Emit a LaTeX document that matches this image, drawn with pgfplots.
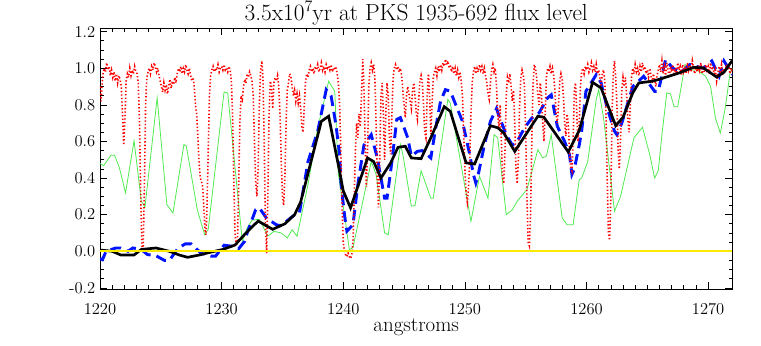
\documentclass[border=0pt]{standalone}
\usepackage{pgfplots}
\pgfplotsset{compat=1.18}
\definecolor{specred}{RGB}{255,0,0}
\definecolor{specgreen}{RGB}{80,235,80}
\definecolor{specblue}{RGB}{0,20,255}
\definecolor{specyellow}{RGB}{250,235,0}
\begin{document}
\begin{tikzpicture}
\begin{axis}[
  scale only axis, width=474.4pt, height=195.75pt,
  xmin=1220, xmax=1272, ymin=-0.206, ymax=1.22,
  xtick={1220,1230,1240,1250,1260,1270}, minor x tick num=9,
  ytick={-0.2,0,0.2,0.4,0.6,0.8,1.0,1.2}, minor y tick num=3,
  tick align=inside,
  major tick length=5.5pt, minor tick length=2.8pt,
  tick style={black, line width=0.5pt},
  axis line style={black, line width=0.6pt},
  /pgf/number format/1000 sep={},
  /pgf/number format/assume math mode=true,
  xticklabel style={font=\fontsize{12.4}{14}\selectfont, yshift=-7pt},
  yticklabel style={font=\fontsize{12.4}{14}\selectfont,
    /pgf/number format/fixed, /pgf/number format/fixed zerofill,
    /pgf/number format/precision=1},
  xlabel={angstroms},
  xlabel style={font=\fontsize{15.7}{18}\selectfont, yshift=4pt},
  title={3.5x10\raisebox{0.85ex}{\fontsize{12}{12}\selectfont 7}yr at PKS 1935-692 flux level},
  title style={font=\fontsize{17.5}{20}\selectfont, yshift=-7.5pt},
]
\coordinate (bl) at (rel axis cs:0,0);
\coordinate (tr) at (rel axis cs:1,1);
% smoothed model (green)
\addplot[specgreen, line width=0.6pt] coordinates {
(1220.0,0.48) (1220.3,0.468) (1220.9,0.525) (1221.2,0.525) (1221.6,0.455) (1222.1,0.319)
(1222.8,0.604) (1223.4,0.273) (1223.7,0.242) (1224.7,0.838) (1225.5,0.255) (1226.0,0.209)
(1226.9,0.583) (1227.1,0.575) (1228.0,0.227) (1228.6,0.091) (1228.9,0.12) (1230.2,0.87)
(1230.5,0.865) (1231.7,0.055) (1232.1,0.127) (1232.5,0.17) (1233.1,0.175) (1233.8,0.082)
(1234.3,0.109) (1234.9,0.1) (1235.4,0.073) (1235.8,0.118) (1236.2,0.082) (1237.1,0.364)
(1237.9,0.674) (1238.8,0.929) (1239.3,0.874) (1239.6,0.42) (1240.1,0.2) (1240.5,0.009)
(1240.8,0.02) (1242.3,0.49) (1242.7,0.42) (1243.4,0.1) (1243.7,0.09) (1244.7,0.583)
(1244.9,0.53) (1245.6,0.246) (1245.9,0.25) (1246.4,0.44) (1247.2,0.29) (1247.4,0.29)
(1248.6,0.83) (1248.8,0.81) (1250.5,0.164) (1251.2,0.41) (1251.9,0.29) (1252.4,0.637)
(1252.7,0.62) (1253.4,0.2) (1253.9,0.227) (1254.3,0.273) (1255.1,0.337) (1256.0,0.555)
(1256.4,0.51) (1256.7,0.52) (1257.1,0.637) (1258.0,0.182) (1258.4,0.145) (1258.9,0.145)
(1259.4,0.391) (1259.6,0.40) (1260.1,0.49) (1260.8,0.83) (1261.0,0.883) (1261.4,0.73)
(1262.3,0.219) (1262.8,0.3) (1263.9,0.62) (1264.6,0.678) (1265.2,0.528) (1265.6,0.4)
(1265.9,0.44) (1266.2,0.637) (1266.6,0.865) (1266.9,0.86) (1267.2,0.79) (1267.5,0.79)
(1268.1,1.02) (1268.6,0.99) (1269.1,0.99) (1269.8,0.956) (1270.2,0.9) (1270.6,0.728)
(1271.0,0.646) (1271.4,0.78) (1271.8,0.975) (1272.0,1.0)
};
% blue dashed
\addplot[specblue, line width=2.2pt, dash pattern=on 8pt off 4.5pt] coordinates {
(1220.0,-0.04) (1220.2,-0.046) (1220.5,0.0) (1221.3,0.018) (1221.7,0.018) (1222.3,0.0)
(1222.7,0.018) (1223.4,0.01) (1223.9,-0.018) (1224.6,-0.024) (1225.3,-0.05) (1225.7,-0.05)
(1226.4,0.015) (1227.0,0.04) (1227.5,0.04) (1228.3,-0.01) (1229.1,-0.027) (1229.5,-0.027)
(1230.2,0.033) (1230.9,0.027) (1231.4,0.014) (1231.9,0.055) (1232.1,0.1) (1232.8,0.227)
(1233.1,0.237) (1233.7,0.18) (1234.5,0.145) (1234.8,0.14) (1235.3,0.162) (1236.1,0.205)
(1236.4,0.21) (1237.1,0.49) (1237.9,0.656) (1238.6,0.883) (1239.0,0.85) (1239.4,0.69)
(1239.7,0.53) (1239.8,0.38) (1240.1,0.2) (1240.3,0.11) (1240.8,0.145) (1241.2,0.364)
(1241.7,0.58) (1242.3,0.637) (1242.8,0.51) (1243.4,0.29) (1243.6,0.29) (1244.0,0.49)
(1244.4,0.72) (1244.7,0.73) (1245.3,0.62) (1245.6,0.52) (1246.1,0.546) (1246.5,0.55)
(1247.2,0.51) (1247.6,0.674) (1248.0,0.82) (1248.4,0.883) (1248.8,0.875) (1249.8,0.71)
(1250.4,0.528) (1250.7,0.42) (1250.9,0.373) (1251.1,0.42) (1251.6,0.58) (1252.1,0.71)
(1252.6,0.78) (1252.8,0.74) (1253.4,0.637) (1253.9,0.58) (1254.3,0.6) (1254.9,0.674)
(1255.5,0.728) (1256.1,0.756) (1256.8,0.838) (1257.1,0.855) (1257.6,0.683) (1258.2,0.6)
(1258.6,0.528) (1258.8,0.42) (1259.0,0.45) (1259.4,0.58) (1259.6,0.656) (1259.95,0.874)
(1260.8,0.965) (1261.2,0.92) (1261.7,0.783) (1262.3,0.656) (1262.5,0.637) (1262.9,0.7)
(1263.8,0.9) (1264.7,0.956) (1265.6,0.874) (1265.9,0.874) (1266.5,1.047) (1267.1,1.0)
(1267.8,0.98) (1268.5,1.02) (1269.6,1.0) (1270.3,1.04) (1270.9,0.956) (1271.3,1.04)
(1272.0,0.965)
};
% high resolution spectrum (red dotted)
\addplot[specred, line width=1.2pt, dash pattern=on 1pt off 1.6pt] coordinates {
(1220.00,0.90) (1220.05,0.86) (1220.10,0.82) (1220.18,0.92) (1220.25,0.97) (1220.35,1.00)
(1220.45,0.98) (1220.55,1.03) (1220.65,0.99) (1220.75,1.01) (1220.85,0.96) (1220.95,0.99)
(1221.05,0.95) (1221.15,0.98) (1221.25,0.93) (1221.35,0.97) (1221.45,0.92) (1221.55,0.96)
(1221.65,0.94) (1221.75,0.90) (1221.85,0.75) (1221.95,0.58) (1222.05,0.72) (1222.15,0.93)
(1222.25,0.97) (1222.35,0.95) (1222.45,1.00) (1222.55,0.96) (1222.65,0.99) (1222.75,0.97)
(1222.85,1.01) (1222.95,0.98) (1223.05,0.97) (1223.15,0.92) (1223.25,0.70) (1223.35,0.30)
(1223.45,0.02) (1223.55,0.01) (1223.65,0.35) (1223.75,0.80) (1223.85,0.95) (1223.95,0.98)
(1224.05,1.00) (1224.15,0.97) (1224.25,1.01) (1224.35,0.99) (1224.45,1.03) (1224.55,1.01)
(1224.65,0.98) (1224.75,1.00) (1224.85,0.96) (1224.95,0.93) (1225.05,0.90) (1225.15,0.87)
(1225.25,0.92) (1225.35,0.88) (1225.45,0.91) (1225.55,0.86) (1225.65,0.90) (1225.75,0.94)
(1225.85,0.89) (1225.95,0.93) (1226.05,0.91) (1226.15,0.95) (1226.25,0.92) (1226.35,0.97)
(1226.45,1.00) (1226.55,0.98) (1226.65,1.01) (1226.75,0.97) (1226.85,1.00) (1226.95,0.98)
(1227.05,1.02) (1227.15,0.99) (1227.25,0.97) (1227.35,1.00) (1227.45,0.96) (1227.55,0.93)
(1227.65,0.95) (1227.75,0.90) (1227.85,0.80) (1227.95,0.75) (1228.05,0.62) (1228.15,0.48)
(1228.25,0.40) (1228.35,0.38) (1228.45,0.35) (1228.55,0.22) (1228.65,0.10) (1228.72,0.09)
(1228.80,0.25) (1228.90,0.55) (1229.00,0.85) (1229.10,0.96) (1229.20,0.99) (1229.30,1.01)
(1229.40,0.98) (1229.50,1.00) (1229.60,0.99) (1229.70,1.02) (1229.80,0.98) (1229.90,1.00)
(1230.00,1.01) (1230.10,0.99) (1230.20,1.02) (1230.30,0.99) (1230.40,1.00) (1230.50,0.98)
(1230.60,1.01) (1230.70,0.99) (1230.80,0.93) (1230.90,0.75) (1231.00,0.40) (1231.10,0.10)
(1231.20,0.03) (1231.30,0.05) (1231.40,0.35) (1231.50,0.70) (1231.60,0.85) (1231.70,0.83)
(1231.80,0.90) (1231.90,0.94) (1232.00,0.92) (1232.10,0.97) (1232.20,0.95) (1232.30,0.98)
(1232.40,0.96) (1232.50,0.93) (1232.60,0.85) (1232.70,0.60) (1232.80,0.38) (1232.90,0.30)
(1233.00,0.45) (1233.10,0.80) (1233.20,0.98) (1233.30,1.04) (1233.40,0.95) (1233.50,0.60)
(1233.60,0.15) (1233.70,-0.01) (1233.80,0.30) (1233.90,0.75) (1234.00,0.93) (1234.10,0.90)
(1234.20,0.78) (1234.30,0.92) (1234.40,0.95) (1234.50,0.93) (1234.60,0.96) (1234.70,0.90)
(1234.80,0.75) (1234.90,0.50) (1235.00,0.30) (1235.10,0.25) (1235.20,0.40) (1235.30,0.70)
(1235.40,0.88) (1235.50,0.92) (1235.60,0.97) (1235.70,0.95) (1235.80,0.90) (1235.90,0.85)
(1236.00,0.88) (1236.10,0.82) (1236.20,0.86) (1236.30,0.81) (1236.40,0.85) (1236.50,0.78)
(1236.60,0.68) (1236.70,0.65) (1236.80,0.80) (1236.90,0.93) (1237.00,0.97) (1237.10,0.95)
(1237.20,0.99) (1237.30,1.01) (1237.40,0.98) (1237.50,1.00) (1237.60,0.97) (1237.70,1.01)
(1237.80,0.99) (1237.90,1.02) (1238.00,0.98) (1238.10,1.00) (1238.20,1.03) (1238.30,0.99)
(1238.40,1.01) (1238.50,0.98) (1238.60,1.02) (1238.70,1.00) (1238.80,1.01) (1238.90,0.99)
(1239.00,1.02) (1239.10,0.98) (1239.20,1.00) (1239.30,0.99) (1239.40,1.01) (1239.50,0.97)
(1239.60,0.92) (1239.70,0.80) (1239.80,0.55) (1239.90,0.25) (1240.00,0.05) (1240.10,0.00)
(1240.20,-0.02) (1240.30,-0.03) (1240.40,-0.01) (1240.50,-0.03) (1240.60,-0.04) (1240.70,-0.02)
(1240.80,0.05) (1240.90,0.30) (1241.00,0.55) (1241.10,0.70) (1241.20,0.62) (1241.30,0.75)
(1241.40,0.68) (1241.50,0.85) (1241.60,1.05) (1241.70,0.90) (1241.80,0.60) (1241.90,0.35)
(1242.00,0.55) (1242.10,0.90) (1242.20,1.00) (1242.30,1.03) (1242.40,0.99) (1242.50,1.02)
(1242.60,0.95) (1242.70,0.70) (1242.80,0.40) (1242.90,0.24) (1243.00,0.50) (1243.10,0.85)
(1243.20,0.92) (1243.30,0.75) (1243.40,0.50) (1243.50,0.75) (1243.60,0.92) (1243.70,0.85)
(1243.80,0.60) (1243.90,0.53) (1244.00,0.75) (1244.10,0.95) (1244.20,1.00) (1244.30,1.02)
(1244.40,0.99) (1244.50,1.01) (1244.60,0.98) (1244.70,1.00) (1244.80,0.96) (1244.90,0.88)
(1245.00,0.80) (1245.10,0.73) (1245.20,0.85) (1245.30,0.90) (1245.40,0.86) (1245.50,0.82)
(1245.60,0.78) (1245.70,0.88) (1245.80,0.92) (1245.90,0.85) (1246.00,0.76) (1246.10,0.72)
(1246.20,0.82) (1246.30,0.93) (1246.40,0.96) (1246.50,0.92) (1246.60,0.80) (1246.70,0.65)
(1246.80,0.62) (1246.90,0.85) (1247.00,0.97) (1247.10,0.85) (1247.20,0.64) (1247.30,0.80)
(1247.40,0.95) (1247.50,0.98) (1247.60,1.00) (1247.70,0.96) (1247.80,1.01) (1247.90,0.98)
(1248.00,1.02) (1248.10,0.99) (1248.20,1.03) (1248.30,1.01) (1248.40,1.05) (1248.50,1.02)
(1248.60,1.04) (1248.70,1.00) (1248.80,1.02) (1248.90,0.98) (1249.00,1.01) (1249.10,0.97)
(1249.20,1.00) (1249.30,0.96) (1249.40,0.99) (1249.50,0.95) (1249.60,0.98) (1249.70,0.93)
(1249.80,0.85) (1249.90,0.65) (1250.00,0.45) (1250.10,0.32) (1250.20,0.27) (1250.30,0.35)
(1250.40,0.50) (1250.50,0.75) (1250.60,0.92) (1250.70,0.98) (1250.80,1.01) (1250.90,0.97)
(1251.00,1.00) (1251.10,0.98) (1251.20,1.02) (1251.30,0.99) (1251.40,1.01) (1251.50,0.97)
(1251.60,1.00) (1251.70,0.96) (1251.80,0.92) (1251.90,0.86) (1252.00,0.83) (1252.10,0.92)
(1252.20,0.99) (1252.30,1.02) (1252.40,0.98) (1252.50,1.00) (1252.60,0.90) (1252.70,0.75)
(1252.80,0.67) (1252.90,0.80) (1253.00,0.60) (1253.10,0.40) (1253.20,0.37) (1253.30,0.55)
(1253.40,0.85) (1253.50,0.95) (1253.60,0.92) (1253.70,0.97) (1253.80,0.90) (1253.90,0.82)
(1254.00,0.88) (1254.10,0.70) (1254.20,0.45) (1254.30,0.37) (1254.40,0.50) (1254.50,0.80)
(1254.60,0.95) (1254.70,0.99) (1254.80,0.96) (1254.90,0.90) (1255.00,0.65) (1255.10,0.30)
(1255.20,0.05) (1255.30,0.03) (1255.40,0.20) (1255.50,0.60) (1255.60,0.90) (1255.70,1.02)
(1255.80,1.00) (1255.90,0.95) (1256.00,0.85) (1256.10,0.80) (1256.20,0.92) (1256.30,0.85)
(1256.40,0.70) (1256.50,0.60) (1256.60,0.75) (1256.70,0.95) (1256.80,1.00) (1256.90,0.98)
(1257.00,1.01) (1257.10,0.97) (1257.20,1.00) (1257.30,0.96) (1257.40,0.88) (1257.50,0.75)
(1257.60,0.70) (1257.70,0.80) (1257.80,0.93) (1257.90,0.97) (1258.00,0.94) (1258.10,0.85)
(1258.20,0.70) (1258.30,0.63) (1258.40,0.75) (1258.50,0.70) (1258.60,0.55) (1258.70,0.46)
(1258.80,0.44) (1258.90,0.60) (1259.00,0.88) (1259.10,0.92) (1259.20,0.75) (1259.30,0.60)
(1259.40,0.70) (1259.50,0.90) (1259.60,0.98) (1259.70,1.00) (1259.80,0.97) (1259.90,1.01)
(1260.00,0.99) (1260.10,1.02) (1260.20,0.98) (1260.30,1.00) (1260.40,1.03) (1260.50,0.99)
(1260.60,1.01) (1260.70,0.98) (1260.80,1.02) (1260.90,0.97) (1261.00,0.99) (1261.10,0.95)
(1261.20,0.90) (1261.30,0.97) (1261.40,0.99) (1261.50,0.93) (1261.60,0.75) (1261.70,0.40)
(1261.80,0.10) (1261.90,0.06) (1262.00,0.30) (1262.10,0.75) (1262.20,0.97) (1262.30,1.04)
(1262.40,0.95) (1262.50,0.80) (1262.60,0.55) (1262.70,0.45) (1262.80,0.62) (1262.90,0.88)
(1263.00,0.95) (1263.10,0.90) (1263.20,0.95) (1263.30,0.85) (1263.40,0.72) (1263.50,0.65)
(1263.60,0.80) (1263.70,0.95) (1263.80,1.00) (1263.90,0.97) (1264.00,1.02) (1264.10,0.98)
(1264.20,1.00) (1264.30,0.96) (1264.40,1.01) (1264.50,0.98) (1264.60,1.03) (1264.70,0.99)
(1264.80,1.01) (1264.90,0.97) (1265.00,0.99) (1265.10,0.95) (1265.20,1.00) (1265.30,0.96)
(1265.40,0.92) (1265.50,0.97) (1265.60,0.94) (1265.70,0.90) (1265.80,0.96) (1265.90,0.99)
(1266.00,1.02) (1266.10,0.98) (1266.20,1.04) (1266.30,0.97) (1266.40,1.01) (1266.50,0.96)
(1266.60,1.03) (1266.70,0.99) (1266.80,0.95) (1266.90,1.01) (1267.00,0.98) (1267.10,1.02)
(1267.20,0.96) (1267.30,1.00) (1267.40,0.97) (1267.50,1.03) (1267.60,0.99) (1267.70,1.01)
(1267.80,0.96) (1267.90,1.02) (1268.00,0.98) (1268.10,1.00) (1268.20,0.97) (1268.30,1.03)
(1268.40,0.99) (1268.50,1.02) (1268.60,0.98) (1268.70,1.04) (1268.80,1.00) (1268.90,0.97)
(1269.00,1.01) (1269.10,0.98) (1269.20,1.02) (1269.30,0.99) (1269.40,1.03) (1269.50,0.97)
(1269.60,1.00) (1269.70,0.98) (1269.80,1.02) (1269.90,0.99) (1270.00,1.01) (1270.10,0.97)
(1270.20,1.03) (1270.30,0.99) (1270.40,1.01) (1270.50,0.96) (1270.60,0.99) (1270.70,0.93)
(1270.80,0.97) (1270.90,1.01) (1271.00,0.98) (1271.10,1.02) (1271.20,0.96) (1271.30,1.00)
(1271.40,0.98) (1271.50,1.02) (1271.60,0.99) (1271.70,1.01) (1271.80,0.97) (1271.90,1.00)
(1272.00,0.98)
};
% smoothed high resolution spectrum (black)
\addplot[black, line width=2pt] coordinates {
(1220.0,0.007) (1221.0,0.0) (1221.7,-0.02) (1222.8,-0.02) (1223.4,0.01) (1224.6,0.018)
(1225.7,0.0) (1226.5,-0.02) (1227.2,-0.033) (1228.2,-0.02) (1229.1,-0.005) (1230.1,0.01)
(1231.1,0.034) (1232.0,0.1) (1233.0,0.165) (1234.2,0.12) (1235.2,0.15) (1236.0,0.2)
(1236.5,0.27) (1238.2,0.71) (1238.8,0.738) (1239.6,0.47) (1240.0,0.33) (1240.6,0.237)
(1242.0,0.51) (1242.5,0.49) (1243.1,0.40) (1243.9,0.483) (1244.5,0.568) (1245.1,0.574)
(1245.6,0.51) (1246.4,0.506) (1247.2,0.62) (1248.3,0.79) (1248.8,0.765) (1250.1,0.483)
(1250.8,0.477) (1252.1,0.686) (1252.7,0.675) (1253.2,0.646) (1254.1,0.546) (1256.0,0.738)
(1256.5,0.732) (1258.5,0.543) (1259.4,0.66) (1260.5,0.923) (1261.2,0.892) (1262.4,0.686)
(1263.0,0.732) (1263.8,0.865) (1264.3,0.92) (1265.4,0.929) (1266.0,0.94) (1267.6,0.974)
(1268.8,1.005) (1269.6,1.002) (1270.7,0.952) (1271.3,0.978) (1272.0,1.044)
};
% zero level
\addplot[specyellow, line width=1.2pt] coordinates {(1220,0) (1272,0)};
\end{axis}
\pgfresetboundingbox
\path[use as bounding box] ([xshift=-75pt,yshift=-42.75pt]bl) rectangle ([xshift=21.4pt,yshift=21pt]tr);
\end{tikzpicture}
\end{document}
